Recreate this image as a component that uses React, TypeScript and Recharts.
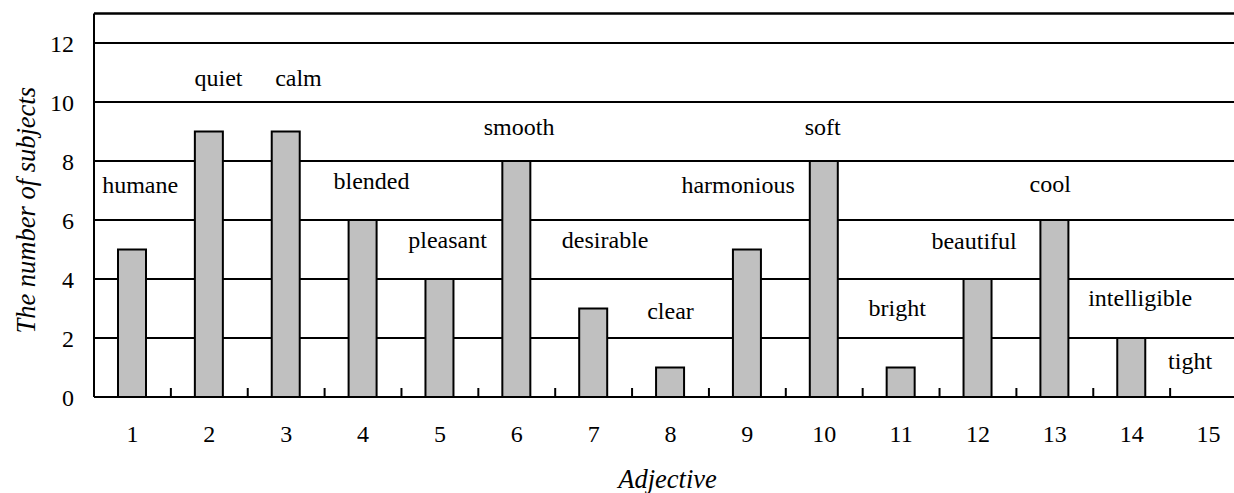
import { ComposedChart, Bar, Scatter, XAxis, YAxis, CartesianGrid, ReferenceLine } from 'recharts';

const adjectiveNumbers = [1, 2, 3, 4, 5, 6, 7, 8, 9, 10, 11, 12, 13, 14, 15];
const subjectCounts = [5, 9, 9, 6, 4, 8, 3, 1, 5, 8, 1, 4, 6, 2, 0];
const adjectiveNames = [
  'humane', 'quiet', 'calm', 'blended', 'pleasant', 'smooth', 'desirable', 'clear',
  'harmonious', 'soft', 'bright', 'beautiful', 'cool', 'intelligible', 'tight',
];
// where each word sits, in axis units (adjective number, subject count at the baseline)
const nameAnchorX = [1.1, 2.12, 3.16, 4.11, 5.1, 6.03, 7.15, 8.0, 8.88, 9.98, 10.95, 11.95, 12.94, 14.11, 14.76];
const nameAnchorY = [6.92, 10.54, 10.54, 7.05, 5.05, 8.88, 5.05, 2.64, 6.92, 8.88, 2.75, 5.02, 6.95, 3.08, 0.95];
const yTicks = [0, 2, 4, 6, 8, 10, 12];

const FONT = 'Liberation Serif, DejaVu Serif, serif';

const barData = adjectiveNumbers.map((n, i) => ({ pos: n, count: subjectCounts[i] }));
const labelData = adjectiveNames.map((name, i) => ({ pos: nameAnchorX[i], level: nameAnchorY[i], name }));
// integer ticks carry the numbers, half ticks are the small marks between bars
const xTicks = adjectiveNumbers.flatMap((n) => (n < adjectiveNumbers.length ? [n, n + 0.5] : [n]));

const XTick = (props: any) => {
  const { x, y, payload } = props;
  const v = payload.value;
  if (Number.isInteger(v)) {
    return (
      <text x={x} y={y + 45} textAnchor="middle" fontSize={24} style={{ fontFamily: FONT }} fill="#000">
        {v}
      </text>
    );
  }
  return <line x1={x} x2={x} y1={y} y2={y - 9} stroke="#000" strokeWidth={2} />;
};

const NameMark = (props: any) => {
  const { cx, cy, payload } = props;
  return (
    <text x={cx} y={cy} textAnchor="middle" fontSize={24} style={{ fontFamily: FONT }} fill="#000">
      {payload.name}
    </text>
  );
};

const XTitle = (props: any) => {
  const vb = props.viewBox || { x: 94, y: 397, width: 1153, height: 96 };
  return (
    <text x={vb.x + vb.width / 2 - 3} y={vb.y + 91} textAnchor="middle" fontSize={26.5} fontStyle="italic" style={{ fontFamily: FONT }} fill="#000">
      Adjective
    </text>
  );
};

const YTitle = (props: any) => {
  const vb = props.viewBox || { x: 0, y: 13.5, width: 94, height: 383.5 };
  const cy = vb.y + vb.height / 2 + 5;
  return (
    <text x={35} y={cy} transform={`rotate(-90, 35, ${cy})`} textAnchor="middle" fontSize={26.5} fontStyle="italic" style={{ fontFamily: FONT }} fill="#000">
      The number of subjects
    </text>
  );
};

const App = () => {
  return (
    <div style={{ position: 'absolute', left: 0, top: 0, width: 1234, height: 493, overflow: 'hidden', background: '#fff', fontFamily: FONT }}>
      <ComposedChart width={1247} height={493} data={barData} margin={{ top: 13.5, right: 0, bottom: 0, left: 0 }}>
        <CartesianGrid vertical={false} stroke="#000" strokeWidth={2} />
        <XAxis
          dataKey="pos"
          type="number"
          domain={[0.5, 15.5]}
          ticks={xTicks}
          interval={0}
          tick={<XTick />}
          tickLine={false}
          tickSize={0}
          tickMargin={0}
          height={96}
          axisLine={{ stroke: '#000', strokeWidth: 2 }}
          label={<XTitle />}
        />
        <XAxis xAxisId="names" dataKey="pos" type="number" domain={[0.5, 15.5]} hide />
        <YAxis
          type="number"
          domain={[0, 13]}
          ticks={yTicks}
          width={94}
          tickLine={false}
          tickSize={0}
          tickMargin={20}
          tick={{ fill: '#000', fontSize: 24, fontFamily: FONT }}
          axisLine={{ stroke: '#000', strokeWidth: 2 }}
          label={<YTitle />}
        />
        <ReferenceLine y={13} stroke="#000" strokeWidth={2} />
        <Bar dataKey="count" barSize={28} fill="#c0c0c0" stroke="#000" strokeWidth={2} isAnimationActive={false} />
        <Scatter xAxisId="names" data={labelData} dataKey="level" shape={NameMark} isAnimationActive={false} />
      </ComposedChart>
    </div>
  );
};

export default App;
